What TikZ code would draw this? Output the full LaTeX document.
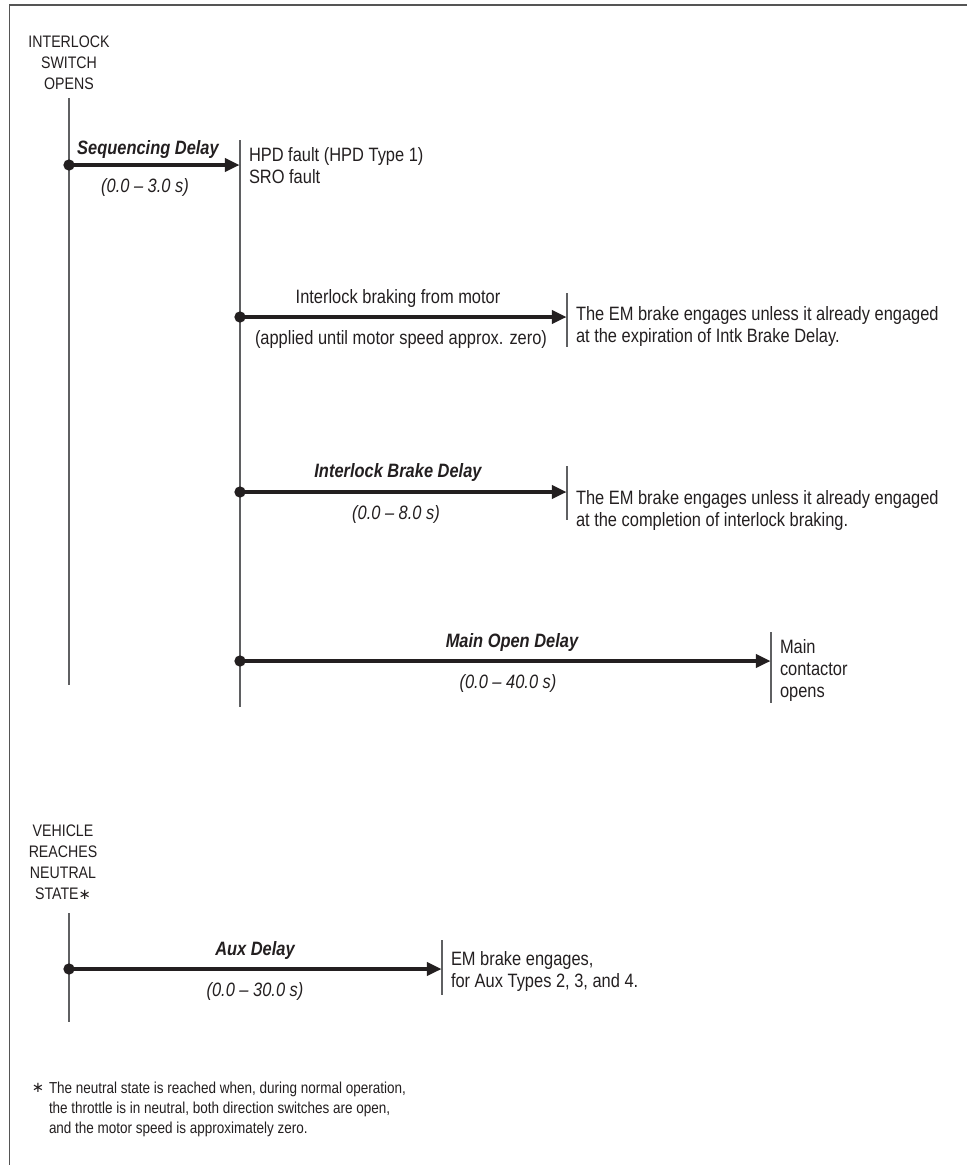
\documentclass[tikz,border=0pt]{standalone}
\usepackage{fontspec}
\setmainfont{Liberation Sans}[FakeStretch=0.85]
\newfontfamily\symf{DejaVu Sans}
\usetikzlibrary{arrows.meta}
\definecolor{ink}{HTML}{231F20}
\definecolor{rulegray}{HTML}{5F6062}
\definecolor{framegray}{HTML}{555555}
\begin{document}
\begin{tikzpicture}[x=0.75pt,y=-0.75pt,
  every node/.style={text=ink, inner sep=0pt, outer sep=0pt},
  capslabel/.style={font=\fontsize{12.5}{15.75}\selectfont, align=center, anchor=north},
  bodytext/.style={font=\fontsize{14.5}{16.5}\selectfont, align=left, anchor=north west},
  delaylabel/.style={font=\fontsize{14.5}{16.5}\selectfont\bfseries\itshape, anchor=base},
  rangelabel/.style={font=\fontsize{14.5}{16.5}\selectfont\itshape, anchor=base},
  plainlabel/.style={font=\fontsize{14.5}{16.5}\selectfont, anchor=base},
  footnotetext/.style={font=\fontsize{11.9}{15}\selectfont, align=left, anchor=north west},
  timeline/.style={draw=rulegray, line width=1.1pt},
  endtick/.style={draw=rulegray, line width=1.4pt},
  delayarrow/.style={draw=ink, line width=2.3pt, -{Triangle[length=11pt,width=10pt]}},
  startdot/.style={fill=ink, circle, minimum size=8.5pt}
]
\useasboundingbox (0,0) rectangle (967,1165);
% frame
\draw[framegray, line width=1.4pt] (9.5,1165) -- (9.5,5) -- (967,5);

% ---------- Interlock switch opens ----------
\node[capslabel] (ilk) at (69,36) {INTERLOCK\\SWITCH\\OPENS};
\coordinate (L1top) at (69,98);
\coordinate (L1bot) at (69,685);
\draw[timeline] (L1top) -- (L1bot);

\coordinate (L2top) at (240,140);
\coordinate (L2bot) at (240,707);
\draw[timeline] (L2top) -- (L2bot);

% sequencing delay
\coordinate (s0) at (69,165);
\coordinate (s1) at (239.5,165);
\draw[delayarrow] (s0) -- (s1);
\node[startdot] (sd) at (s0) {};
\node[delaylabel] (seqlbl) at (148,154) {Sequencing Delay};
\node[rangelabel] (seqrng) at (145,192) {(0.0 -- 3.0 s)};
\node[bodytext] (hpd) at (249,147) {HPD fault (HPD Type 1)\\SRO fault};

% interlock braking
\coordinate (b0) at (240,317);
\coordinate (b1) at (566.5,317);
\coordinate (bt0) at (567,293);
\coordinate (bt1) at (567,347);
\draw[endtick] (bt0) -- (bt1);
\draw[delayarrow] (b0) -- (b1);
\node[startdot] (bd) at (b0) {};
\node[plainlabel] (brklbl) at (398,303) {Interlock braking from motor};
\node[plainlabel] (brkrng) at (401,344) {(applied until motor speed approx. zero)};
\node[bodytext] (em1) at (576,306) {The EM brake engages unless it already engaged\\at the expiration of Intk Brake Delay.};

% interlock brake delay
\coordinate (i0) at (240,492);
\coordinate (i1) at (566.5,492);
\coordinate (it0) at (567,466);
\coordinate (it1) at (567,520);
\draw[endtick] (it0) -- (it1);
\draw[delayarrow] (i0) -- (i1);
\node[startdot] (id) at (i0) {};
\node[delaylabel] (ibdlbl) at (398,477) {Interlock Brake Delay};
\node[rangelabel] (ibdrng) at (396,519) {(0.0 -- 8.0 s)};
\node[bodytext] (em2) at (576,490) {The EM brake engages unless it already engaged\\at the completion of interlock braking.};

% main open delay
\coordinate (m0) at (240,661);
\coordinate (m1) at (770.5,661);
\coordinate (mt0) at (771,632);
\coordinate (mt1) at (771,703);
\draw[endtick] (mt0) -- (mt1);
\draw[delayarrow] (m0) -- (m1);
\node[startdot] (md) at (m0) {};
\node[delaylabel] (mainlbl) at (512,647) {Main Open Delay};
\node[rangelabel] (mainrng) at (508,688) {(0.0 -- 40.0 s)};
\node[bodytext] (maintxt) at (780,639) {Main\\contactor\\opens};

% ---------- Vehicle reaches neutral state ----------
\node[capslabel] (veh) at (63,825) {VEHICLE\\REACHES\\NEUTRAL\\STATE{\symf\fontsize{11}{11}\selectfont ∗}};
\coordinate (L3top) at (69,913);
\coordinate (L3bot) at (69,1022);
\draw[timeline] (L3top) -- (L3bot);

\coordinate (a0) at (69,969);
\coordinate (a1) at (441.5,969);
\coordinate (at0) at (442,940);
\coordinate (at1) at (442,995);
\draw[endtick] (at0) -- (at1);
\draw[delayarrow] (a0) -- (a1);
\node[startdot] (ad) at (a0) {};
\node[delaylabel] (auxlbl) at (255,955) {Aux Delay};
\node[rangelabel] (auxrng) at (255,996) {(0.0 -- 30.0 s)};
\node[bodytext] (auxtxt) at (451,951) {EM brake engages,\\for Aux Types 2, 3, and 4.};

% footnote
\node[anchor=base, font=\symf\fontsize{11}{11}\selectfont] (fnstar) at (38,1092) {∗};
\node[footnotetext] (fntxt) at (49,1082) {The neutral state is reached when, during normal operation,\\the throttle is in neutral, both direction switches are open,\\and the motor speed is approximately zero.};
\end{tikzpicture}
\end{document}
